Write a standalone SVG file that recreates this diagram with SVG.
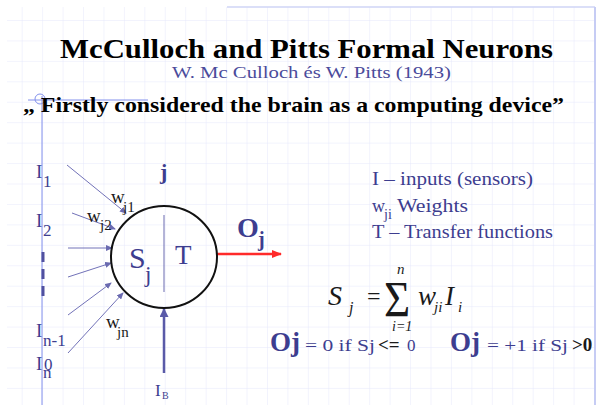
<svg xmlns="http://www.w3.org/2000/svg" width="597" height="405" viewBox="0 0 597 405">
<style>
.serif{font-family:"Liberation Serif","Times New Roman",serif;white-space:pre}
.blue{fill:#3d3d8f}
.dark{fill:#1a1a1a}
.b{font-weight:bold}
.it{font-style:italic}
.inl{stroke:#7272b8;stroke-width:1;fill:none}
</style>
<defs>
<pattern id="grid" x="21.7" y="20" width="20.44" height="20.44" patternUnits="userSpaceOnUse">
<path d="M0,0 V20.44 M0,0 H20.44" stroke="#e5e8fb" stroke-width="1" fill="none"/>
</pattern>
<marker id="ab" markerUnits="userSpaceOnUse" markerWidth="7" markerHeight="6" refX="6" refY="3" orient="auto"><path d="M0,0 L7,3 L0,6 z" fill="#6a6ab0"/></marker>
<marker id="ar" markerUnits="userSpaceOnUse" markerWidth="10" markerHeight="8" refX="9" refY="4" orient="auto"><path d="M0,0 L10,4 L0,8 z" fill="#ff2a2a"/></marker>
<marker id="aib" markerUnits="userSpaceOnUse" markerWidth="9" markerHeight="10" refX="8" refY="4.5" orient="auto"><path d="M0,0 L9,4.5 L0,9 z" fill="#5a5aa8"/></marker>
</defs>
<rect width="597" height="405" fill="#ffffff"/>
<rect x="7" y="7" width="588" height="398" fill="url(#grid)"/>
<line x1="227" y1="7" x2="595" y2="7" stroke="#cfd4f6" stroke-width="1.5"/>
<line x1="595" y1="7" x2="595" y2="405" stroke="#c6ccf4" stroke-width="2"/>
<line x1="42" y1="96" x2="42" y2="405" stroke="#8290ec" stroke-width="1"/>
<line x1="28" y1="100" x2="148" y2="100" stroke="#8290ec" stroke-width="1"/>
<circle cx="40" cy="99" r="5" fill="none" stroke="#8290ec" stroke-width="1"/>

<g id="title" class="serif">
<text x="60" y="58" font-size="27" class="b" fill="#000" textLength="493" lengthAdjust="spacingAndGlyphs">McCulloch and Pitts Formal Neurons</text>
<text x="172" y="78" font-size="17" fill="#4b4b9b" textLength="279" lengthAdjust="spacingAndGlyphs">W. Mc Culloch és W. Pitts  (1943)</text>
<text x="23" y="112" font-size="22" class="b" fill="#000" textLength="541" lengthAdjust="spacingAndGlyphs">„ Firstly considered the brain as a computing device”</text>
</g>

<g id="connectors">
<line class="inl" x1="67" y1="165" x2="126" y2="213" marker-end="url(#ab)"/>
<line class="inl" x1="72" y1="213" x2="115" y2="229" marker-end="url(#ab)"/>
<line class="inl" x1="68" y1="248" x2="112" y2="248" marker-end="url(#ab)"/>
<line class="inl" x1="68" y1="277" x2="111" y2="263" marker-end="url(#ab)"/>
<line class="inl" x1="68" y1="315" x2="111" y2="283" marker-end="url(#ab)"/>
<line class="inl" x1="68" y1="353" x2="123" y2="293" marker-end="url(#ab)"/>
<line x1="217" y1="254" x2="281" y2="254" stroke="#ff2a2a" stroke-width="2.5" marker-end="url(#ar)"/>
<line x1="164" y1="373" x2="164" y2="309" stroke="#5a5aa8" stroke-width="2.5" marker-end="url(#aib)"/>
<line x1="43" y1="252" x2="43" y2="297" stroke="#5050a0" stroke-width="3" stroke-dasharray="10 7"/>
</g>

<g id="inputs" class="serif blue">
<text x="36" y="178" font-size="19">I</text><text x="43" y="187" font-size="17">1</text>
<text x="36" y="227" font-size="19">I</text><text x="43" y="236" font-size="17">2</text>
<text x="36" y="337" font-size="19">I</text><text x="43" y="346" font-size="17">n-1</text>
<text x="36" y="370" font-size="19">I</text><text x="44" y="370" font-size="17">0</text><text x="43" y="378" font-size="17">n</text>
</g>

<g id="weights" class="serif dark">
<text x="111" y="203" font-size="19">w</text><text x="123" y="212" font-size="15">j1</text>
<text x="87" y="222" font-size="19">w</text><text x="100" y="230" font-size="15">j2</text>
<text x="106" y="328" font-size="19">w</text><text x="117" y="337" font-size="15">jn</text>
</g>

<g id="neuron">
<ellipse cx="164" cy="257" rx="53" ry="51" fill="none" stroke="#111" stroke-width="2"/>
<line x1="164" y1="215" x2="164" y2="292" stroke="#6a6ab0" stroke-width="1"/>
<text x="160" y="179" font-size="22" class="serif blue b">j</text>
<text x="129" y="268" font-size="30" class="serif blue">S</text>
<text x="145" y="282" font-size="23" class="serif blue">j</text>
<text x="175" y="264" font-size="27" class="serif blue">T</text>
</g>

<g id="output" class="serif blue b">
<text x="237" y="237" font-size="28">O</text>
<text x="258" y="246" font-size="20">j</text>
</g>

<g id="bias" class="serif blue">
<text x="155" y="396" font-size="17">I</text>
<text x="162" y="399" font-size="10">B</text>
</g>

<g id="legend" class="serif blue" font-size="18">
<text x="372" y="185" textLength="161" lengthAdjust="spacingAndGlyphs">I –  inputs (sensors)</text>
<text x="372" y="212">w</text><text x="384" y="219" font-size="14">ji</text>
<text x="397" y="212" textLength="71" lengthAdjust="spacingAndGlyphs">Weights</text>
<text x="372" y="238" textLength="181" lengthAdjust="spacingAndGlyphs">T – Transfer functions</text>
</g>

<g id="formula" class="serif dark">
<text x="328" y="305" font-size="28" class="it">S</text>
<text x="349" y="313" font-size="16" class="it">j</text>
<text x="367" y="304" font-size="24">=</text>
<text x="384" y="316" font-size="50" transform="translate(384 316) scale(0.9 1) translate(-384 -316)">Σ</text>
<text x="397" y="274" font-size="15" class="it">n</text>
<text x="392" y="331" font-size="14" class="it">i=1</text>
<text x="418" y="305" font-size="27" class="it">w</text>
<text x="434" y="312" font-size="15" class="it">ji</text>
<text x="445" y="305" font-size="27" class="it">I</text>
<text x="458" y="312" font-size="15" class="it">i</text>
</g>

<g id="conditions" class="serif">
<text x="270" y="351" font-size="27" class="blue b">Oj</text>
<text x="305" y="351" font-size="17" class="blue" textLength="70" lengthAdjust="spacingAndGlyphs">= 0 if Sj</text>
<text x="378" y="351" font-size="19" class="dark b">&lt;=</text>
<text x="407" y="351" font-size="17" class="blue">0</text>
<text x="450" y="351" font-size="27" class="blue b">Oj</text>
<text x="487" y="351" font-size="17" class="blue" textLength="81" lengthAdjust="spacingAndGlyphs">= +1 if Sj</text>
<text x="572" y="351" font-size="19" class="dark b">&gt;0</text>
</g>
</svg>
